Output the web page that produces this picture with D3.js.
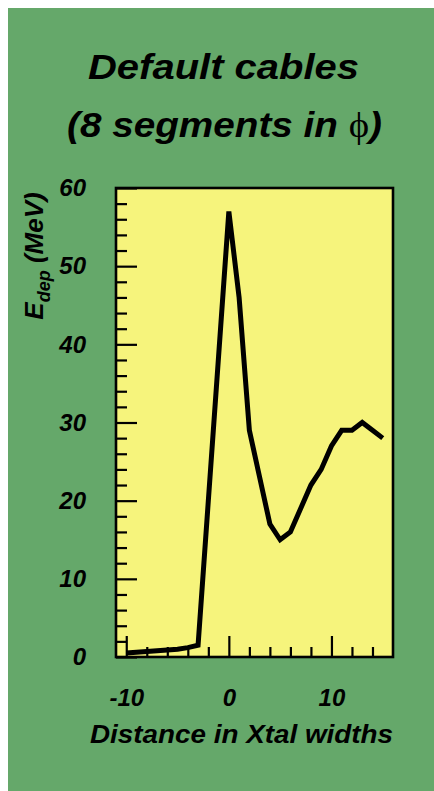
<!DOCTYPE html>
<html>
<head>
<meta charset="utf-8">
<script src="https://cdn.jsdelivr.net/npm/d3@7"></script>
<style>
  body { margin: 0; background: #ffffff; }
  svg { display: block; }
</style>
</head>
<body>
<div id="wrapper"></div>
<script>
// distance (Xtal widths) and deposited energy (MeV)
const distance = [-10, -9, -8, -7, -6, -5, -4, -3, -2, -1, 0, 1, 2, 3, 4, 5, 6, 7, 8, 9, 10, 11, 12, 13, 14, 15]
const eDep = [0.5, 0.6, 0.7, 0.8, 0.9, 1.0, 1.2, 1.5, 20, 38.5, 57, 46, 29, 23, 17, 15, 16, 19, 22, 24, 27, 29, 29, 30, 29, 28]
const xMajorTicks = [-10, 0, 10]
const xMinorTicks = [-8, -6, -4, -2, 2, 4, 6, 8, 12, 14]
const yMajorTicks = [0, 10, 20, 30, 40, 50, 60]
const yMinorTicks = d3.range(2, 60, 2).filter(v => v % 10 !== 0)

const dataset = distance.map((d, i) => ({ x: d, y: eDep[i] }))
const xAccessor = d => d.x
const yAccessor = d => d.y

let dimensions = {
    width: 434,
    height: 791,
    margin: { top: 188, right: 41, bottom: 134, left: 116 },
}
dimensions.boundedWidth = dimensions.width - dimensions.margin.left - dimensions.margin.right
dimensions.boundedHeight = dimensions.height - dimensions.margin.top - dimensions.margin.bottom

const wrapper = d3.select("#wrapper")
    .append("svg")
    .attr("width", dimensions.width)
    .attr("height", dimensions.height)

// green canvas
wrapper.append("rect")
    .attr("x", 8)
    .attr("y", 8)
    .attr("width", dimensions.width - 8)
    .attr("height", dimensions.height - 8)
    .attr("fill", "#65a86a")

const bounds = wrapper.append("g")
    .attr("transform", `translate(${dimensions.margin.left},${dimensions.margin.top})`)

const xScaler = d3.scaleLinear()
    .domain([-11, 16])
    .range([0, dimensions.boundedWidth])

const yScaler = d3.scaleLinear()
    .domain([0, 60])
    .range([dimensions.boundedHeight, 0])

// yellow frame
bounds.append("rect")
    .attr("width", dimensions.boundedWidth)
    .attr("height", dimensions.boundedHeight)
    .attr("fill", "#f6f47c")

// ticks go inward, labels use a plain hyphen for the minus
const tickFont = "bold italic 24px 'Liberation Sans', Arial, sans-serif"
const plain = d => String(d)

const yAxisGen = d3.axisLeft(yScaler).tickValues(yMajorTicks).tickFormat(plain).tickSizeInner(-21).tickSizeOuter(0).tickPadding(30)
const yAxis = bounds.append("g").call(yAxisGen)
yAxis.select(".domain").remove()
yAxis.selectAll("line").attr("stroke", "black").attr("stroke-width", 2.2)
yAxis.selectAll("text").style("font", tickFont).attr("fill", "black")

const yMinorGen = d3.axisLeft(yScaler).tickValues(yMinorTicks).tickSizeInner(-11).tickSizeOuter(0).tickFormat("")
const yMinor = bounds.append("g").call(yMinorGen)
yMinor.select(".domain").remove()
yMinor.selectAll("line").attr("stroke", "black").attr("stroke-width", 2.2)

const xAxisGen = d3.axisBottom(xScaler).tickValues(xMajorTicks).tickFormat(plain).tickSizeInner(-21).tickSizeOuter(0).tickPadding(32)
const xAxis = bounds.append("g")
    .attr("transform", `translate(0,${dimensions.boundedHeight})`)
    .call(xAxisGen)
xAxis.select(".domain").remove()
xAxis.selectAll("line").attr("stroke", "black").attr("stroke-width", 2.2)
xAxis.selectAll("text").style("font", tickFont).attr("fill", "black")

const xMinorGen = d3.axisBottom(xScaler).tickValues(xMinorTicks).tickSizeInner(-10).tickSizeOuter(0).tickFormat("")
const xMinor = bounds.append("g")
    .attr("transform", `translate(0,${dimensions.boundedHeight})`)
    .call(xMinorGen)
xMinor.select(".domain").remove()
xMinor.selectAll("line").attr("stroke", "black").attr("stroke-width", 2.2)

// frame border
bounds.append("rect")
    .attr("width", dimensions.boundedWidth)
    .attr("height", dimensions.boundedHeight)
    .attr("fill", "none")
    .attr("stroke", "black")
    .attr("stroke-width", 2.6)

const lineGen = d3.line()
    .x(d => xScaler(xAccessor(d)))
    .y(d => yScaler(yAccessor(d)))

bounds.append("path")
    .datum(dataset)
    .attr("d", lineGen)
    .attr("fill", "none")
    .attr("stroke", "black")
    .attr("stroke-width", 5)

// titles
const titleFont = "bold italic 35px 'Liberation Sans', Arial, sans-serif"

wrapper.append("text")
    .attr("x", 88)
    .attr("y", 79)
    .attr("textLength", 271)
    .attr("lengthAdjust", "spacingAndGlyphs")
    .style("font", titleFont)
    .text("Default cables")

const title2 = wrapper.append("text")
    .attr("x", 67)
    .attr("y", 137)
    .attr("textLength", 315)
    .attr("lengthAdjust", "spacingAndGlyphs")
    .style("font", titleFont)
title2.append("tspan").text("(8 segments in ")
title2.append("tspan")
    .style("font", "normal 35px 'Liberation Serif', 'DejaVu Serif', serif")
    .text("\u03D5")
title2.append("tspan").text(")")

const xLabel = wrapper.append("text")
    .attr("x", 90)
    .attr("y", 743)
    .attr("textLength", 303)
    .attr("lengthAdjust", "spacingAndGlyphs")
    .style("font", "bold italic 25px 'Liberation Sans', Arial, sans-serif")
    .text("Distance in Xtal widths")

const yLabel = wrapper.append("text")
    .attr("transform", "translate(43,256) rotate(-90)")
    .attr("text-anchor", "middle")
    .style("font", "bold italic 26px 'Liberation Sans', Arial, sans-serif")
yLabel.append("tspan").text("E")
yLabel.append("tspan").attr("dy", 7).style("font-size", "18px").text("dep")
yLabel.append("tspan").attr("dy", -7).text(" (MeV)")
</script>
</body>
</html>
